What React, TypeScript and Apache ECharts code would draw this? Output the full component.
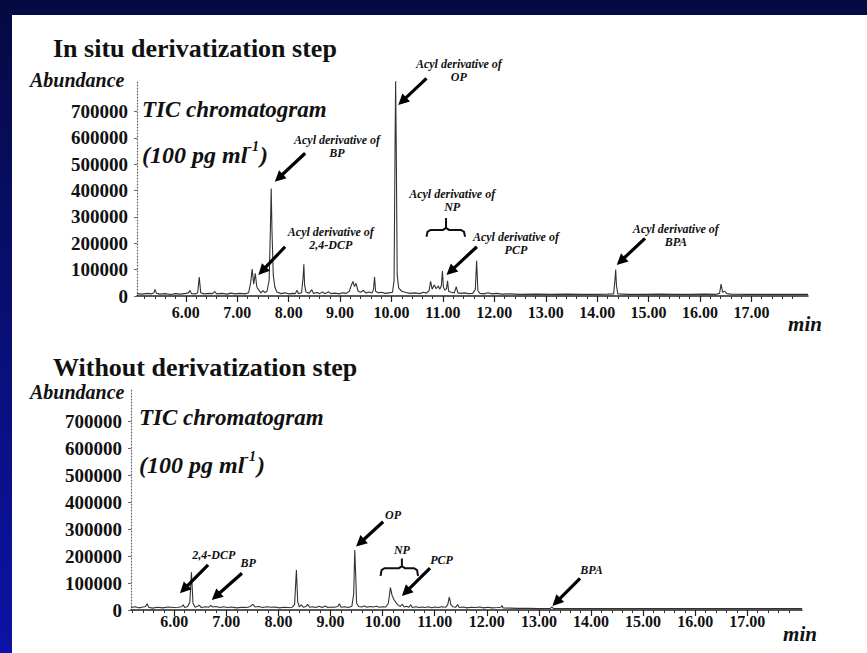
import React, { useEffect, useRef } from "react";
import * as echarts from "echarts";

const SERIF = '"Liberation Serif", "Times New Roman", serif';

// ---------- data ----------
const X_MAJOR = [6, 7, 8, 9, 10, 11, 12, 13, 14, 15, 16, 17];
const Y_TICKS = [0, 100000, 200000, 300000, 400000, 500000, 600000, 700000];

// In situ derivatization step (time in min, abundance)
const IN_SITU: [number, number][] = [
  [5.05, 9000], [5.15, 7000], [5.25, 10000], [5.33, 8000], [5.38, 12000], [5.40, 25000], [5.43, 10000],
  [5.5, 7000], [5.6, 9000], [5.7, 6000], [5.8, 9000], [5.9, 7000], [6.0, 10000], [6.05, 12000],
  [6.08, 21000], [6.11, 9000], [6.18, 8000], [6.23, 12000], [6.26, 72000], [6.29, 12000], [6.35, 8000],
  [6.45, 10000], [6.52, 9000], [6.56, 17000], [6.6, 8000], [6.7, 10000], [6.8, 7000], [6.88, 11000],
  [6.95, 8000], [7.05, 10000], [7.15, 8000], [7.22, 12000], [7.26, 50000], [7.29, 102000], [7.32, 45000],
  [7.35, 86000], [7.38, 35000], [7.42, 22000], [7.46, 12000], [7.5, 20000], [7.54, 13000], [7.58, 18000],
  [7.62, 60000], [7.645, 260000], [7.66, 408000], [7.675, 250000], [7.7, 80000], [7.73, 35000],
  [7.77, 15000], [7.85, 9000], [7.93, 12000], [8.0, 8000], [8.08, 10000], [8.13, 9000], [8.16, 22000],
  [8.19, 9000], [8.25, 12000], [8.28, 70000], [8.295, 120000], [8.31, 40000], [8.34, 14000], [8.4, 11000],
  [8.45, 24000], [8.48, 10000], [8.55, 13000], [8.6, 9000], [8.66, 15000], [8.7, 9000], [8.78, 16000],
  [8.82, 9000], [8.9, 11000], [8.98, 8000], [9.05, 12000], [9.12, 10000], [9.18, 18000], [9.22, 42000],
  [9.25, 55000], [9.28, 36000], [9.31, 48000], [9.35, 18000], [9.4, 14000], [9.45, 22000], [9.5, 11000],
  [9.56, 15000], [9.62, 11000], [9.65, 25000], [9.67, 72000], [9.69, 18000], [9.74, 12000], [9.8, 14000],
  [9.88, 10000], [9.95, 12000], [10.02, 14000], [10.05, 60000], [10.07, 600000], [10.08, 815000],
  [10.095, 500000], [10.11, 80000], [10.14, 30000], [10.2, 18000], [10.28, 13000], [10.36, 10000],
  [10.45, 12000], [10.55, 9000], [10.62, 14000], [10.68, 11000], [10.73, 20000], [10.76, 56000],
  [10.79, 26000], [10.83, 42000], [10.87, 28000], [10.91, 38000], [10.94, 26000], [10.97, 40000],
  [10.99, 95000], [11.01, 32000], [11.04, 22000], [11.07, 28000], [11.09, 58000], [11.11, 18000],
  [11.16, 14000], [11.22, 12000], [11.26, 35000], [11.29, 12000], [11.35, 10000], [11.42, 12000],
  [11.5, 9000], [11.58, 10000], [11.63, 25000], [11.655, 134000], [11.68, 20000], [11.72, 10000],
  [11.8, 8000], [11.88, 12000], [11.95, 8000], [12.05, 10000], [12.15, 7000], [12.3, 8000], [12.5, 6000],
  [12.8, 7000], [13.1, 6000], [13.4, 7000], [13.7, 6000], [14.0, 6000], [14.2, 7000], [14.32, 8000],
  [14.345, 60000], [14.36, 100000], [14.375, 40000], [14.4, 8000], [14.6, 6000], [14.9, 6000],
  [15.2, 7000], [15.5, 6000], [15.8, 6000], [16.1, 7000], [16.3, 6000], [16.38, 10000], [16.41, 45000],
  [16.44, 14000], [16.48, 18000], [16.52, 9000], [16.6, 7000], [16.9, 6000], [17.3, 6000], [17.7, 6000],
  [18.1, 6000],
];

// Without derivatization step
const WITHOUT: [number, number][] = [
  [5.17, 9000], [5.25, 12000], [5.32, 8000], [5.4, 11000], [5.45, 13000], [5.48, 23000], [5.51, 10000],
  [5.58, 7000], [5.68, 10000], [5.78, 8000], [5.88, 11000], [5.98, 9000], [6.08, 10000], [6.14, 12000],
  [6.17, 19000], [6.2, 9000], [6.26, 13000], [6.3, 30000], [6.33, 140000], [6.36, 25000], [6.4, 10000],
  [6.45, 14000], [6.48, 18000], [6.52, 9000], [6.6, 12000], [6.66, 10000], [6.7, 17000], [6.74, 11000],
  [6.8, 13000], [6.88, 9000], [6.95, 12000], [7.02, 9000], [7.1, 11000], [7.2, 8000], [7.3, 10000],
  [7.38, 9000], [7.45, 12000], [7.51, 21000], [7.55, 11000], [7.62, 13000], [7.7, 9000], [7.78, 12000],
  [7.86, 10000], [7.94, 11000], [8.02, 8000], [8.1, 10000], [8.18, 9000], [8.26, 10000], [8.31, 20000],
  [8.345, 148000], [8.37, 30000], [8.4, 12000], [8.44, 19000], [8.48, 10000], [8.53, 13000],
  [8.56, 21000], [8.6, 10000], [8.66, 12000], [8.72, 9000], [8.78, 14000], [8.84, 9000], [8.9, 15000],
  [8.95, 9000], [9.02, 11000], [9.08, 10000], [9.14, 13000], [9.17, 23000], [9.2, 10000], [9.27, 12000],
  [9.34, 9000], [9.41, 14000], [9.445, 60000], [9.465, 222000], [9.485, 120000], [9.5, 25000],
  [9.54, 13000], [9.6, 11000], [9.65, 15000], [9.7, 10000], [9.76, 13000], [9.82, 11000], [9.88, 14000],
  [9.94, 10000], [10.0, 12000], [10.06, 11000], [10.11, 25000], [10.15, 83000], [10.18, 55000],
  [10.22, 38000], [10.26, 26000], [10.3, 18000], [10.34, 13000], [10.38, 21000], [10.41, 11000],
  [10.46, 14000], [10.5, 10000], [10.54, 19000], [10.57, 9000], [10.64, 12000], [10.7, 9000],
  [10.76, 11000], [10.82, 9000], [10.88, 12000], [10.94, 8000], [11.0, 11000], [11.07, 9000],
  [11.14, 12000], [11.21, 10000], [11.25, 20000], [11.28, 48000], [11.31, 20000], [11.35, 12000],
  [11.4, 10000], [11.44, 20000], [11.47, 9000], [11.55, 11000], [11.62, 8000], [11.7, 10000],
  [11.78, 9000], [11.86, 11000], [11.94, 8000], [12.02, 10000], [12.1, 8000], [12.2, 9000],
  [12.27, 10000], [12.29, 17000], [12.31, 8000], [12.45, 7000], [12.6, 6000], [12.8, 6000], [13.0, 5000],
  [13.22, 6000], [13.25, 12000], [13.28, 5000], [13.5, 5000], [14.0, 5000], [14.5, 5000], [15.0, 5000],
  [15.5, 5000], [16.0, 5000], [16.5, 5000], [17.0, 5000], [17.5, 5000], [18.05, 5000],
];

// annotations in data coordinates [time, abundance]
type Note = { text: string; at: [number, number] };
type Arrow = { from: [number, number]; to: [number, number] };
type Brace = { t1: number; t2: number; tm: number; v: number; vEnd: number; vMid: number };

const IN_SITU_NOTES: Note[] = [
  { text: "Acyl derivative of\nOP", at: [11.31, 855000] },
  { text: "Acyl derivative of\nBP", at: [8.94, 569000] },
  { text: "Acyl derivative of\n2,4-DCP", at: [8.82, 218000] },
  { text: "Acyl derivative of\nNP", at: [11.18, 364000] },
  { text: "Acyl derivative of\nPCP", at: [12.42, 199000] },
  { text: "Acyl derivative of\nBPA", at: [15.53, 228000] },
];
const IN_SITU_ARROWS: Arrow[] = [
  { from: [10.68, 826000], to: [10.13, 725000] },
  { from: [8.32, 542000], to: [7.73, 434000] },
  { from: [7.93, 187000], to: [7.41, 80000] },
  { from: [11.66, 187000], to: [11.07, 80000] },
  { from: [14.93, 219000], to: [14.38, 118000] },
];
const IN_SITU_BRACE: Brace = { t1: 10.68, t2: 11.43, tm: 11.06, v: 251000, vEnd: 225000, vMid: 296000 };

const WITHOUT_NOTES: Note[] = [
  { text: "2,4-DCP", at: [6.76, 204000] },
  { text: "BP", at: [7.42, 174000] },
  { text: "OP", at: [10.2, 352000] },
  { text: "NP", at: [10.37, 222000] },
  { text: "PCP", at: [11.13, 185000] },
  { text: "BPA", at: [14.01, 148000] },
];
const WITHOUT_ARROWS: Arrow[] = [
  { from: [6.65, 167000], to: [6.11, 62000] },
  { from: [7.3, 136000], to: [6.72, 37000] },
  { from: [10.01, 327000], to: [9.49, 235000] },
  { from: [10.91, 155000], to: [10.37, 52000] },
  { from: [13.79, 117000], to: [13.26, 15000] },
];
const WITHOUT_BRACE: Brace = { t1: 9.96, t2: 10.68, tm: 10.37, v: 155000, vEnd: 126000, vMid: 191000 };

// ---------- helpers ----------
const minorTicks = (lo: number, hi: number) => {
  const out: number[] = [];
  for (let m = 5; m <= 18; m++) {
    for (let k = 1; k <= 4; k++) {
      const v = Math.round((m + k * 0.2) * 100) / 100;
      if (v > lo && v < hi) out.push(v);
    }
  }
  return out;
};

const xAxes = (grid: number, min: number, max: number, margin: number) => [
  {
    gridIndex: grid,
    type: "value",
    position: "bottom",
    min,
    max,
    axisLine: { show: true, onZero: false, lineStyle: { color: "#222", width: 1.5 } },
    axisTick: { show: true, customValues: X_MAJOR, length: 6, lineStyle: { color: "#222", width: 1.2 } },
    axisLabel: {
      show: true,
      customValues: X_MAJOR,
      formatter: (v: number) => v.toFixed(2),
      margin,
      color: "#111",
      fontFamily: SERIF,
      fontWeight: "bold",
      fontSize: 16,
    },
    splitLine: { show: false },
  },
  {
    gridIndex: grid,
    type: "value",
    position: "bottom",
    min,
    max,
    axisLine: { show: false },
    axisTick: { show: true, customValues: minorTicks(min, max), length: 3, lineStyle: { color: "#333", width: 1 } },
    axisLabel: { show: false },
    splitLine: { show: false },
  },
];

const yAxis = (grid: number, max: number) => ({
  gridIndex: grid,
  type: "value",
  min: 0,
  max,
  axisLine: { show: true, lineStyle: { color: "#666", width: 1.2, type: [1, 2] } },
  axisTick: { show: true, customValues: Y_TICKS, length: 3, lineStyle: { color: "#666" } },
  axisLabel: {
    show: true,
    customValues: Y_TICKS,
    formatter: (v: number) => String(v),
    margin: 9,
    color: "#111",
    fontFamily: SERIF,
    fontWeight: "bold",
    fontSize: 19,
  },
  splitLine: { show: false },
});

const txt = (text: string, x: number, y: number, size: number, opts: any = {}) => ({
  type: "text",
  x,
  y,
  z: 10,
  style: {
    text,
    fill: "#111",
    fontFamily: SERIF,
    fontSize: size,
    fontWeight: "bold",
    fontStyle: opts.italic ? "italic" : "normal",
    align: opts.align || "left",
    textAlign: opts.align || "left",
    verticalAlign: "middle",
    textVerticalAlign: "middle",
    lineHeight: opts.lineHeight,
  },
});

const concText = (x: number, y: number) => ({
  type: "text",
  x,
  y,
  z: 10,
  style: {
    text: "{n|(100 pg ml}{s|-1}{n|)}",
    fill: "#111",
    verticalAlign: "middle",
    textVerticalAlign: "middle",
    rich: {
      n: { fontFamily: SERIF, fontSize: 24, fontWeight: "bold", fontStyle: "italic", lineHeight: 28, fill: "#111", verticalAlign: "bottom" },
      s: { fontFamily: SERIF, fontSize: 14, fontWeight: "bold", fontStyle: "italic", lineHeight: 28, fill: "#111", verticalAlign: "top", padding: [0, 1, 10, 0] },
    },
  },
});

function arrowEls(p0: number[], p1: number[]) {
  const dx = p1[0] - p0[0];
  const dy = p1[1] - p0[1];
  const len = Math.hypot(dx, dy) || 1;
  const ux = dx / len;
  const uy = dy / len;
  const headLen = 11;
  const headW = 5.5;
  const bx = p1[0] - ux * headLen;
  const by = p1[1] - uy * headLen;
  const nx = -uy;
  const ny = ux;
  return [
    { type: "line", z: 10, shape: { x1: p0[0], y1: p0[1], x2: bx + ux * 2, y2: by + uy * 2 }, style: { stroke: "#000", lineWidth: 3.2 } },
    {
      type: "polygon",
      z: 10,
      shape: { points: [[p1[0], p1[1]], [bx + nx * headW, by + ny * headW], [bx - nx * headW, by - ny * headW]] },
      style: { fill: "#000" },
    },
  ];
}

export default function App() {
  const ref = useRef<HTMLDivElement>(null);

  useEffect(() => {
    if (!ref.current) return;
    const chart = echarts.init(ref.current, null, { renderer: "svg" });
    chart.setOption({
      animation: false,
      backgroundColor: "#ffffff",
      grid: [
        { left: 137, top: 80, width: 671, height: 216, containLabel: false },
        { left: 131, top: 390, width: 671, height: 220, containLabel: false },
      ],
      xAxis: [...xAxes(0, 5.05, 18.1, 8), ...xAxes(1, 5.17, 18.05, 3)],
      yAxis: [yAxis(0, 820000), yAxis(1, 815000)],
      series: [
        {
          type: "line",
          xAxisIndex: 0,
          yAxisIndex: 0,
          data: IN_SITU,
          showSymbol: false,
          symbol: "none",
          lineStyle: { color: "#333", width: 1.1 },
          z: 3,
        },
        {
          type: "line",
          xAxisIndex: 2,
          yAxisIndex: 1,
          data: WITHOUT,
          showSymbol: false,
          symbol: "none",
          lineStyle: { color: "#333", width: 1.1 },
          z: 3,
        },
      ],
    });

    const finders = [
      { xAxisIndex: 0, yAxisIndex: 0 },
      { xAxisIndex: 2, yAxisIndex: 1 },
    ];
    const px = (g: number, p: [number, number]) => chart.convertToPixel(finders[g] as any, p) as number[];

    const g: any[] = [
      // frame
      { type: "rect", z: 0, shape: { x: 0, y: 0, width: 867, height: 15 }, style: { fill: "#050a42" } },
      {
        type: "rect",
        z: 0,
        shape: { x: 0, y: 0, width: 12, height: 653 },
        style: {
          fill: new echarts.graphic.LinearGradient(0, 0, 0, 1, [
            { offset: 0, color: "#050a42" },
            { offset: 1, color: "#0c13a6" },
          ]),
        },
      },
      // titles
      txt("In situ derivatization step", 53, 48, 26),
      txt("Without derivatization step", 53, 367, 26),
      txt("Abundance", 30, 80, 20, { italic: true }),
      txt("Abundance", 30, 392, 20, { italic: true }),
      txt("TIC chromatogram", 142, 109, 23, { italic: true }),
      txt("TIC chromatogram", 139, 417, 23, { italic: true }),
      concText(142, 153),
      concText(139, 463),
      txt("min", 805, 324, 21, { italic: true, align: "center" }),
      txt("min", 800, 634, 21, { italic: true, align: "center" }),
    ];

    const addSet = (gi: number, notes: Note[], arrows: Arrow[], brace: Brace) => {
      notes.forEach((n) => {
        const p = px(gi, n.at);
        g.push(txt(n.text, p[0], p[1], 12, { italic: true, align: "center", lineHeight: 13 }));
      });
      arrows.forEach((a) => {
        g.push(...arrowEls(px(gi, a.from), px(gi, a.to)));
      });
      const l = px(gi, [brace.t1, brace.v]);
      const le = px(gi, [brace.t1, brace.vEnd]);
      const r = px(gi, [brace.t2, brace.v]);
      const re = px(gi, [brace.t2, brace.vEnd]);
      const m = px(gi, [brace.tm, brace.v]);
      const mt = px(gi, [brace.tm, brace.vMid]);
      g.push({
        type: "polyline",
        z: 10,
        shape: {
          points: [
            [le[0], le[1]],
            [l[0] + 1, l[1] + 2],
            [l[0] + 4, l[1]],
            [m[0] - 3, m[1]],
            [m[0], m[1] - 2],
            [mt[0], mt[1]],
            [m[0], m[1] - 2],
            [m[0] + 3, m[1]],
            [r[0] - 4, r[1]],
            [r[0] - 1, r[1] + 2],
            [re[0], re[1]],
          ],
        },
        style: { stroke: "#111", lineWidth: 2, fill: "none" },
      });
    };
    addSet(0, IN_SITU_NOTES, IN_SITU_ARROWS, IN_SITU_BRACE);
    addSet(1, WITHOUT_NOTES, WITHOUT_ARROWS, WITHOUT_BRACE);

    chart.setOption({ graphic: { elements: g } });

    return () => chart.dispose();
  }, []);

  return (
    <div
      ref={ref}
      style={{ position: "fixed", left: 0, top: 0, width: 867, height: 653, background: "#fff" }}
    />
  );
}
